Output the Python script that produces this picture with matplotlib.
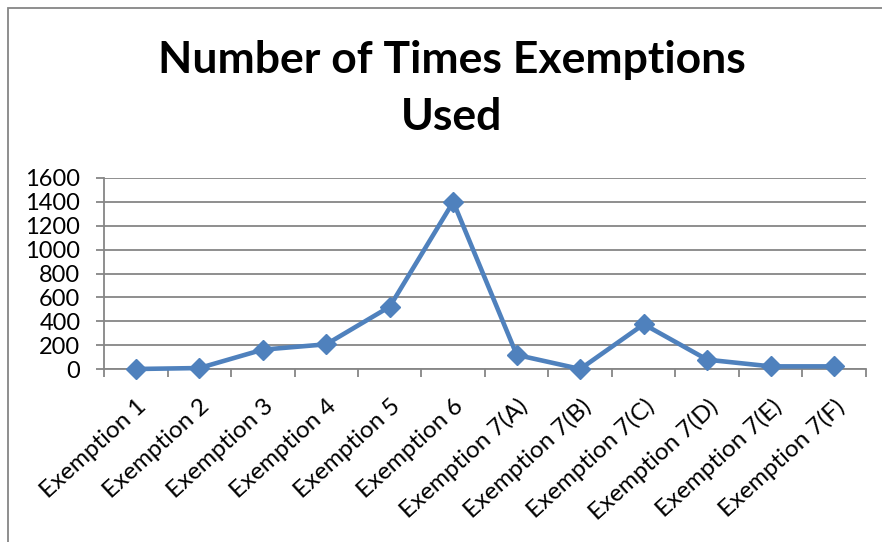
import numpy as np
import matplotlib.pyplot as plt
from matplotlib.patches import Rectangle

# data
categories = ['Exemption 1', 'Exemption 2', 'Exemption 3', 'Exemption 4', 'Exemption 5',
              'Exemption 6', 'Exemption 7(A)', 'Exemption 7(B)', 'Exemption 7(C)',
              'Exemption 7(D)', 'Exemption 7(E)', 'Exemption 7(F)']
times_used = [0, 8, 162, 207, 522, 1400, 118, 0, 375, 78, 22, 22]
y_ticks = [0, 200, 400, 600, 800, 1000, 1200, 1400, 1600]

plt.rcParams['font.family'] = ['Lato', 'DejaVu Sans']

fig = plt.figure(figsize=(8.82, 5.42), dpi=100)
ax = fig.add_axes([104/882, 1-369/542, (866-104)/882, (369-178)/542])

x = np.arange(len(categories))
ax.plot(x, times_used, color='#4F81BD', linewidth=3.3, marker='D', markersize=10,
        zorder=3, clip_on=False)

ax.set_xlim(-0.5, len(categories) - 0.5)
ax.set_ylim(0, 1600)
ax.set_yticks(y_ticks)
ax.set_yticklabels([str(v) for v in y_ticks], fontsize=17)
ax.yaxis.grid(True, color='#868686', linewidth=1.3)
ax.set_axisbelow(True)

ax.set_xticks(x)
ax.set_xticklabels(categories, rotation=42.5, ha='right', va='top',
                   rotation_mode='anchor', fontsize=17.5)
ax.tick_params(axis='x', length=0, pad=19)
ax.set_xticks(np.arange(-0.5, len(categories)), minor=True)
ax.tick_params(axis='x', which='minor', length=6, color='#868686', width=1.3)
ax.tick_params(axis='y', length=6, color='#868686', width=1.3, pad=11)

for side in ['top', 'right']:
    ax.spines[side].set_visible(False)
for side in ['left', 'bottom']:
    ax.spines[side].set_color('#868686')
    ax.spines[side].set_linewidth(1.3)

fig.text(452/882, 1-60/542, 'Number of Times Exemptions', ha='center', va='center',
         fontsize=32, fontweight='bold')
fig.text(452/882, 1-117/542, 'Used', ha='center', va='center',
         fontsize=32, fontweight='bold')

# chart border (right and bottom cut off in the original)
fig.patches.append(Rectangle((8/882, -0.1), 1.2, 1-8/542+0.1, transform=fig.transFigure,
                             fill=False, edgecolor='#868686', linewidth=1.3))

fig.savefig('out.png', dpi=100)
